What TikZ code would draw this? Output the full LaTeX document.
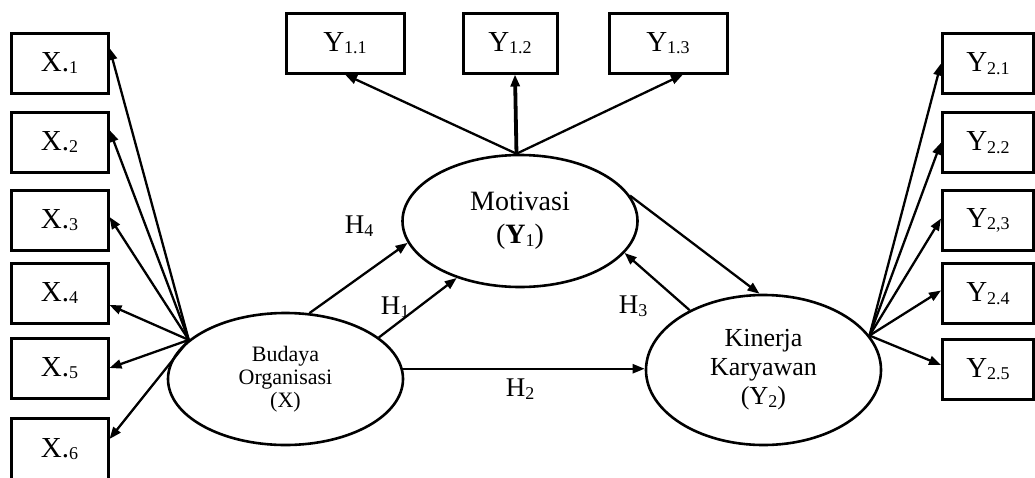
\documentclass[tikz,border=0pt]{standalone}
\usepackage{fontspec}
\setmainfont{Liberation Serif}
\usetikzlibrary{shapes.geometric,arrows.meta}
% small lowered index used in the indicator and hypothesis labels
\newcommand{\lsub}[1]{\raisebox{-2.5pt}{\fontsize{18}{18}\selectfont #1}}
\begin{document}
\begin{tikzpicture}[x=1pt,y=-1pt,
  ind/.style={draw,line width=3pt,rectangle,inner sep=0pt,minimum height=60pt,
              font=\fontsize{29}{31}\selectfont},
  lat/.style={draw,line width=2.6pt,ellipse,inner sep=0pt,minimum width=235pt,
              minimum height=132pt,align=center},
  arr/.style={line width=2.3pt,-{Triangle[length=12pt,width=9pt]}},
  hyp/.style={font=\fontsize{27}{29}\selectfont,inner sep=0pt}]
\useasboundingbox (0,0) rectangle (1035,477);

% indicators of Budaya Organisasi
\node[ind,minimum width=97pt] (x1) at (59.5,63)  {X.\lsub{1}};
\node[ind,minimum width=97pt] (x2) at (59.5,142) {X.\lsub{2}};
\node[ind,minimum width=97pt] (x3) at (59.5,220) {X.\lsub{3}};
\node[ind,minimum width=97pt] (x4) at (59.5,293) {X.\lsub{4}};
\node[ind,minimum width=97pt] (x5) at (59.5,368) {X.\lsub{5}};
\node[ind,minimum width=97pt,minimum height=62pt] (x6) at (59.5,449) {X.\lsub{6}};

% indicators of Motivasi
\node[ind,minimum width=118pt] (y11) at (345,43) {Y\lsub{1.1}};
\node[ind,minimum width=94pt]  (y12) at (510,43) {Y\lsub{1.2}};
\node[ind,minimum width=118pt] (y13) at (668,43) {Y\lsub{1.3}};

% indicators of Kinerja Karyawan
\node[ind,minimum width=91pt] (y21) at (988,63.5)  {Y\lsub{2.1}};
\node[ind,minimum width=91pt] (y22) at (988,142.5) {Y\lsub{2.2}};
\node[ind,minimum width=91pt] (y23) at (988,220.5) {Y\lsub{2,3}};
\node[ind,minimum width=91pt] (y24) at (988,293.5) {Y\lsub{2.4}};
\node[ind,minimum width=91pt] (y25) at (988,369)   {Y\lsub{2.5}};

% latent variables
\node[lat,font=\fontsize{22}{23}\selectfont] (bo) at (285.5,379)
  {Budaya\\Organisasi\\(X)};
\node[lat,font=\fontsize{28}{33}\selectfont] (mo) at (520,221)
  {Motivasi\\(\textbf{Y}\lsub{1})};
\node[lat,minimum height=150pt,font=\fontsize{26}{29}\selectfont] (ki) at (763.5,370)
  {Kinerja\\Karyawan\\(Y\lsub{2})};

% fan-out points of the measurement arrows
\coordinate (lc) at (bo.158);
\coordinate (rc) at (ki.18);
\coordinate (tc) at (mo.93);

\draw[arr] (lc) -- ([yshift=15pt]x1.east);
\draw[arr] (lc) -- ([yshift=12pt]x2.east);
\draw[arr] (lc) -- ([yshift=3pt]x3.east);
\draw[arr] (lc) -- ([yshift=-12pt]x4.east);
\draw[arr] (lc) -- (x5.east);
\draw[arr] (lc) -- ([yshift=10pt]x6.east);

\draw[arr] (tc) -- (y11.south);
\draw[arr,line width=3.8pt] (tc) -- ([xshift=5pt]y12.south);
\draw[arr] (tc) -- ([xshift=15pt]y13.south);

\draw[arr] (rc) -- (y21.west);
\draw[arr] (rc) -- (y22.west);
\draw[arr] (rc) -- ([yshift=2pt]y23.west);
\draw[arr] (rc) -- ([yshift=3pt]y24.west);
\draw[arr] (rc) -- ([yshift=4pt]y25.west);

% structural paths
\draw[arr] (bo.70) -- (mo.191);
\draw[arr] (bo.24) -- (mo.222);
\draw[arr] (bo.5) -- (bo.5 -| ki.west);
\draw[arr] (ki.141) -- (mo.343);
\draw[arr] (mo.13) -- (ki.93);

% hypothesis labels
\node[hyp] (h4) at (359,226) {H\lsub{4}};
\node[hyp] (h1) at (395,307) {H\lsub{1}};
\node[hyp] (h2) at (520,389) {H\lsub{2}};
\node[hyp] (h3) at (633,306) {H\lsub{3}};
\end{tikzpicture}
\end{document}
